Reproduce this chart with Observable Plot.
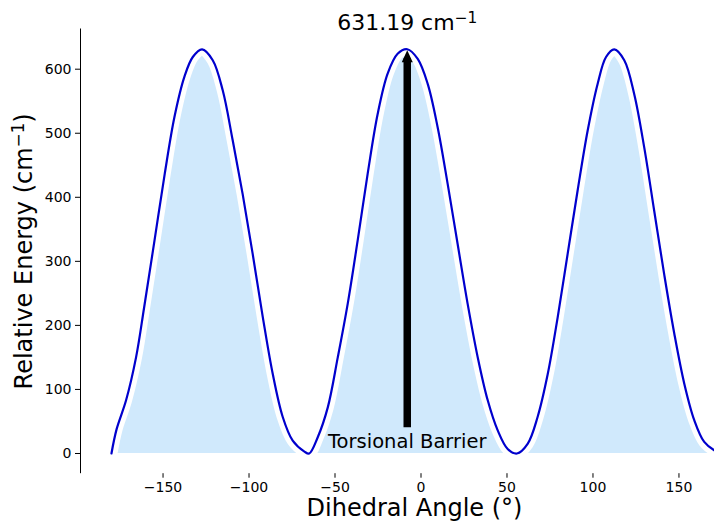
<!DOCTYPE html>
<html>
<head>
<meta charset="utf-8">
<script src="https://cdn.jsdelivr.net/npm/d3@7"></script>
<script src="https://cdn.jsdelivr.net/npm/@observablehq/plot@0.6"></script>
<style>
  html, body { margin: 0; padding: 0; background: white; overflow: hidden; }
  #chart { width: 714px; height: 522px; overflow: hidden; }
</style>
</head>
<body>
<div id="chart"></div>
<script>
// Dihedral scan (degrees) and relative energies (cm^-1)
const angles = [-180, -177, -171.5, -165.7, -161, -155, -149, -143.4, -137.6, -132.7,
  -127.3, -121.1, -115.3, -109.5, -103.7, -97.9, -92, -86.2, -80.4, -74.6,
  -67.8, -65, -60.1, -54.2, -48.4, -42.6, -36.8, -31, -25.2, -19.4,
  -13.6, -8, -1.9, 3.9, 9.7, 15.5, 21.3, 27.1, 33, 38.8,
  44.6, 50.4, 55.8, 62, 67.8, 73.7, 79.5, 85.3, 91.1, 96.9,
  102.7, 107.6, 112.4, 118.2, 124, 129.8, 135.6, 141.4, 147.3, 153.1,
  158.9, 164.7, 170.5, 175, 180];
const energies = [0, 38, 83, 150, 228, 332, 437, 525, 588, 619,
  631, 614, 567, 489, 405, 312, 213, 124, 57, 20,
  3, 0, 25, 72, 150, 234, 333, 437, 530, 593,
  624, 631.19, 616, 577, 509, 421, 327, 234, 150, 83,
  36, 7, 0, 15, 57, 124, 213, 312, 411, 504,
  577, 619, 631, 614, 561, 478, 379, 280, 187, 109,
  52, 18, 5, 0, 8];

const xTicks = [-150, -100, -50, 0, 50, 100, 150];
const yTicks = [0, 100, 200, 300, 400, 500, 600];

const barrier = 631.19;
const barrierAngle = -8;
const arrowBase = 40;
const titleText = "631.19 cm⁻¹";
const annotationText = "Torsional Barrier";
const xLabel = "Dihedral Angle (°)";
const yLabel = "Relative Energy (cm⁻¹)";

const data = angles.map((a, i) => ({angle: a, energy: energies[i]}));
const curve = "catmull-rom";

const chart = Plot.plot({
  width: 714,
  height: 522,
  marginLeft: 80,
  marginRight: 0,
  marginTop: 28.5,
  marginBottom: 48.8,
  x: {domain: [-198, 198], range: [80, 761]},
  y: {domain: [-31.56, 662.75], range: [473.2, 28.5]},
  style: {fontFamily: "DejaVu Sans", fontSize: "14px", color: "black", background: "white", overflow: "hidden"},
  marks: [
    Plot.areaY(data, {x: "angle", y: "energy", fill: "#d0e9fc", curve}),
    Plot.lineY(data, {x: "angle", y: "energy", stroke: "white", strokeWidth: 12, curve}),
    Plot.lineY(data, {x: "angle", y: "energy", stroke: "mediumblue", strokeWidth: 2.2, curve}),
    Plot.ruleX([barrierAngle], {y1: arrowBase, y2: barrier - 15, stroke: "black", strokeWidth: 7.5}),
    Plot.vector([barrierAngle], {x: d => d, y: barrier, dy: 1, shape: "spike", length: 12, r: 5.5,
      anchor: "end", rotate: 0, fill: "black", stroke: "none"}),
    Plot.text([annotationText], {x: barrierAngle, y: 0, dy: -5, lineAnchor: "bottom",
      textAnchor: "middle", fontSize: 19.5, fill: "black"}),
    Plot.text([titleText], {x: barrierAngle, y: barrier, dy: -19, lineAnchor: "bottom",
      textAnchor: "middle", fontSize: 22, fill: "black"}),
    Plot.ruleX([-198], {stroke: "black", strokeWidth: 1}),
    Plot.axisY(yTicks, {tickSize: 5, tickPadding: 4, fontSize: 14, label: null, stroke: "black"}),
    Plot.axisX(xTicks, {tickSize: 4.5, tickPadding: 4, fontSize: 14, label: null, stroke: "black"}),
    Plot.text([xLabel], {frameAnchor: "bottom", dx: 17, dy: 42, lineAnchor: "bottom",
      textAnchor: "middle", fontSize: 24, fill: "black"}),
    Plot.text([yLabel], {frameAnchor: "left", dx: -49, rotate: -90, lineAnchor: "bottom",
      textAnchor: "middle", fontSize: 24, fill: "black"})
  ]
});
document.getElementById("chart").appendChild(chart);

// Render "⁻¹" as a real superscript "−1" (mathtext style)
const SUP = "⁻¹";
chart.querySelectorAll("text").forEach(t => {
  const s = t.textContent;
  const k = s.indexOf(SUP);
  if (k < 0) return;
  const fs = parseFloat(getComputedStyle(t).fontSize);
  const before = s.slice(0, k), after = s.slice(k + SUP.length);
  while (t.firstChild) t.removeChild(t.firstChild);
  const ns = "http://www.w3.org/2000/svg";
  t.appendChild(document.createTextNode(before));
  const sup = document.createElementNS(ns, "tspan");
  sup.setAttribute("dy", (-0.33 * fs).toFixed(2));
  sup.setAttribute("font-size", (0.7 * fs).toFixed(2));
  sup.textContent = "−1";
  t.appendChild(sup);
  if (after) {
    const rest = document.createElementNS(ns, "tspan");
    rest.setAttribute("dy", (0.33 * fs).toFixed(2));
    rest.setAttribute("font-size", fs.toFixed(2));
    rest.textContent = after;
    t.appendChild(rest);
  }
});
</script>
</body>
</html>
